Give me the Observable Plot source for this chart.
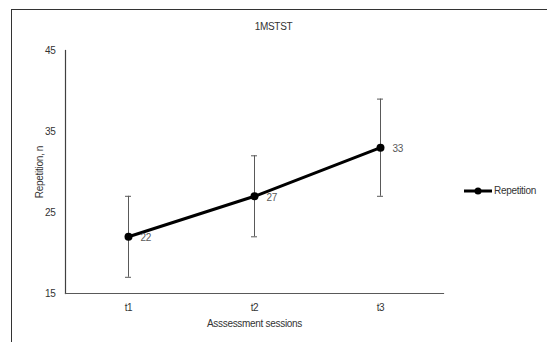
<!DOCTYPE html>
<html>
<head>
<meta charset="utf-8">
<script src="https://cdn.jsdelivr.net/npm/d3@7"></script>
<script src="https://cdn.jsdelivr.net/npm/@observablehq/plot@0.6"></script>
<style>
  body { margin: 0; background: #fff; }
  #wrap { position: relative; width: 547px; height: 342px; overflow: hidden; font-family: "Liberation Sans Narrow", "Arial Narrow", "Liberation Sans", sans-serif; }
  #border { position: absolute; left: 11px; top: 9px; width: 600px; height: 400px; border-top: 1.5px solid #333; border-left: 1.5px solid #333; }
  #title { position: absolute; left: 0; width: 547px; top: 21px; text-align: center; font-size: 10px; color: #333; letter-spacing: -0.3px; }
  #legend { position: absolute; left: 464px; top: 185px; font-size: 10px; color: #333; display: flex; align-items: center; letter-spacing: -0.3px; }
  #plot { position: absolute; left: 0; top: 0; }
</style>
</head>
<body>
<div id="wrap">
  <div id="border"></div>
  <div id="plot"></div>
  <div id="title">1MSTST</div>
  <div id="legend">
    <svg width="28" height="10"><line x1="0" y1="5" x2="28" y2="5" stroke="#000" stroke-width="3"/><circle cx="14" cy="5" r="3.5" fill="#000"/></svg>
    <span style="margin-left:2px">Repetition</span>
  </div>
</div>
<script>
const sessions = ["t1", "t2", "t3"];
const means = [22, 27, 33];
const errLow = [17, 22, 27];
const errHigh = [27, 32, 39];
const yTicks = [15, 25, 35, 45];

const data = sessions.map((s, i) => ({session: s, mean: means[i], lo: errLow[i], hi: errHigh[i]}));

const chart = Plot.plot({
  width: 547,
  height: 342,
  marginLeft: 65,
  marginRight: 104,
  marginTop: 50,
  marginBottom: 49,
  style: {fontFamily: '"Liberation Sans Narrow", "Arial Narrow", "Liberation Sans", sans-serif', fontSize: "10px", color: "#333", background: "transparent", letterSpacing: "-0.3px"},
  x: {type: "band", domain: sessions, padding: 0, label: "Asssessment sessions"},
  y: {domain: [15, 45], ticks: yTicks, label: "Repetition, n"},
  marks: [
    Plot.axisX({tickSize: 0, tickPadding: 10, label: "Asssessment sessions", labelAnchor: "center", labelOffset: 33, labelArrow: "none", fill: "#333"}),
    Plot.axisY({ticks: yTicks, tickSize: 0, tickPadding: 10, label: "Repetition, n", labelAnchor: "center", labelOffset: 30, labelArrow: "none", fill: "#333"}),
    Plot.frame({anchor: "left", stroke: "#404040", strokeWidth: 1.2}),
    Plot.frame({anchor: "bottom", stroke: "#595959", strokeWidth: 1.2}),
    Plot.ruleX(data, {x: "session", y1: "lo", y2: "hi", stroke: "#595959", strokeWidth: 1}),
    Plot.tickY(data, {x: "session", y: "lo", stroke: "#595959", insetLeft: 60, insetRight: 60}),
    Plot.tickY(data, {x: "session", y: "hi", stroke: "#595959", insetLeft: 60, insetRight: 60}),
    Plot.line(data, {x: "session", y: "mean", stroke: "#000", strokeWidth: 3}),
    Plot.dot(data, {x: "session", y: "mean", r: 4, fill: "#000"}),
    Plot.text(data, {x: "session", y: "mean", text: d => String(d.mean), dx: 12, dy: 1, textAnchor: "start", fill: "#595959", fontSize: 10})
  ]
});
document.getElementById("plot").appendChild(chart);
</script>
</body>
</html>
